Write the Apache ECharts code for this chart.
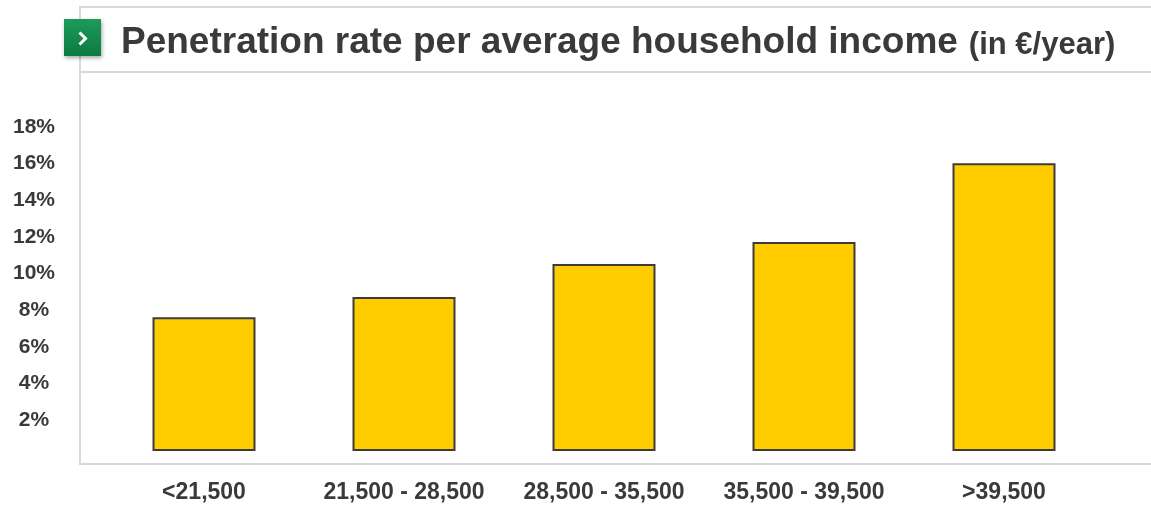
<!DOCTYPE html>
<html>
<head>
<meta charset="utf-8">
<script src="https://cdn.jsdelivr.net/npm/echarts@6/dist/echarts.min.js"></script>
<style>
html,body{margin:0;padding:0;background:#fff;}
#c{width:1151px;height:508px;}
</style>
</head>
<body>
<div id="c"></div>
<script>
const categories = ['<21,500', '21,500 - 28,500', '28,500 - 35,500', '35,500 - 39,500', '>39,500'];
const penetration = [7.3, 8.4, 10.2, 11.4, 15.7];
const titleMain = 'Penetration rate per average household income';
const titleUnit = '(in €/year)';

const FONT = '"Liberation Sans", Arial, sans-serif';
const chart = echarts.init(document.getElementById('c'), null, {renderer: 'canvas'});
const lineColor = '#d9d9d9';
chart.setOption({
  animation: false,
  backgroundColor: '#ffffff',
  title: {
    left: 116,
    top: 14,
    text: '{a|' + titleMain + '}{b|' + titleUnit + '}',
    textStyle: {
      rich: {
        a: {fontFamily: FONT, fontWeight: 'bold', fontSize: 37, lineHeight: 42, color: '#3a3a3a', verticalAlign: 'bottom'},
        b: {fontFamily: FONT, fontWeight: 'bold', fontSize: 31, lineHeight: 42, color: '#3a3a3a', verticalAlign: 'bottom', padding: [0, 0, 0, 11]}
      }
    }
  },
  grid: {left: 104, right: 47, top: 121, bottom: 57, containLabel: false},
  xAxis: {
    type: 'category',
    data: categories,
    axisLine: {show: false},
    axisTick: {show: false},
    axisLabel: {
      interval: 0,
      margin: 30,
      fontFamily: FONT, fontWeight: 'bold', fontSize: 23, color: '#3a3a3a'
    }
  },
  yAxis: {
    type: 'value',
    min: 0, max: 18, interval: 2,
    splitLine: {show: false},
    axisLine: {show: false},
    axisTick: {show: false},
    axisLabel: {
      margin: 70,
      align: 'center',
      verticalAlign: 'top',
      lineHeight: 12,
      fontFamily: FONT, fontWeight: 'bold', fontSize: 21, color: '#3a3a3a',
      formatter: v => v === 0 ? '' : v + '%'
    }
  },
  series: [{
    type: 'bar',
    data: penetration,
    barWidth: 103,
    itemStyle: {color: '#ffcc00', borderColor: '#3c3c3c', borderWidth: 2}
  }],
  graphic: [
    {type: 'line', shape: {x1: 80, y1: 7, x2: 1151, y2: 7}, style: {stroke: lineColor, lineWidth: 2}, z: 1},
    {type: 'line', shape: {x1: 80, y1: 72, x2: 1151, y2: 72}, style: {stroke: lineColor, lineWidth: 2}, z: 1},
    {type: 'line', shape: {x1: 80, y1: 6, x2: 80, y2: 465}, style: {stroke: lineColor, lineWidth: 2}, z: 1},
    {type: 'line', shape: {x1: 80, y1: 464, x2: 1151, y2: 464}, style: {stroke: lineColor, lineWidth: 2}, z: 1},
    {type: 'rect', shape: {x: 64, y: 19, width: 37, height: 37},
      style: {
        fill: new echarts.graphic.LinearGradient(0, 0, 0, 1, [
          {offset: 0, color: '#1f9a5a'}, {offset: 1, color: '#0c7a42'}
        ]),
        shadowBlur: 4, shadowColor: 'rgba(0,0,0,0.35)', shadowOffsetX: 1, shadowOffsetY: 2
      }, z: 10},
    {type: 'polyline', shape: {points: [[79.5, 32.5], [85.5, 38.5], [79.5, 44.5]]},
      style: {stroke: '#ffffff', lineWidth: 3, fill: null}, z: 11}
  ]
});
</script>
</body>
</html>
